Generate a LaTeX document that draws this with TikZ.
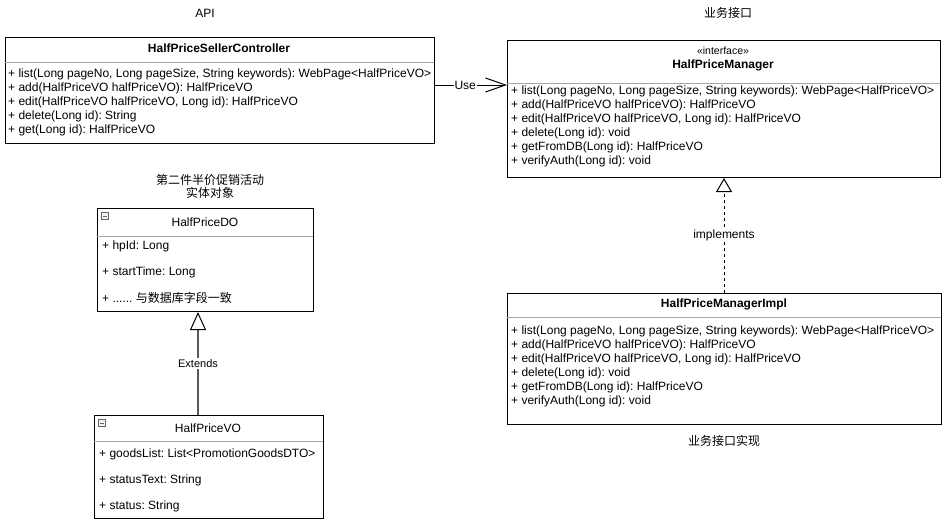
\documentclass[tikz,border=0pt]{standalone}
\usepackage{fontspec}
\setmainfont{Liberation Sans}
\newfontfamily\cjk{Noto Sans CJK SC}
\usetikzlibrary{arrows.meta}
\frenchspacing
\begin{document}
\begin{tikzpicture}[x=1pt,y=-1pt,
  font=\fontsize{12}{14}\selectfont,
  classbox/.style={draw=black,line width=1pt,anchor=north west,inner sep=0pt},
  divider/.style={draw=gray!70,line width=0.8pt},
  txt/.style={anchor=west,inner sep=0pt},
  ctxt/.style={anchor=center,inner sep=0pt},
  lbl/.style={fill=white,inner sep=1pt,anchor=center},
  minusicon/.style={draw=gray!80!black,fill=blue!6,line width=0.5pt,minimum size=7pt,inner sep=0pt,anchor=center}
]
\useasboundingbox (0,0) rectangle (944,525);
\fill[white] (0,0) rectangle (944,525);

% titles
\node[ctxt] (tapi) at (205,13) {API};
\node[ctxt] (tif) at (728,13) {\cjk 业务接口};
\node[ctxt] (timpl) at (724,441) {\cjk 业务接口实现};
\node[ctxt,align=center] (tdo) at (210,186) {\cjk 第二件半价促销活动\\[-1pt]\cjk 实体对象};

% Controller
\node[classbox,minimum width=429pt,minimum height=106pt] (ctrl) at (5,37) {};
\draw[divider] (5,62) -- (434,62);
\node[ctxt,font=\fontsize{12}{14}\selectfont\bfseries] (ctrlh) at (219,48) {HalfPriceSellerController};
\node[txt] (c1) at (8,74) {+ list(Long pageNo, Long pageSize, String keywords): WebPage<HalfPriceVO>};
\node[txt] (c2) at (8,88) {+ add(HalfPriceVO halfPriceVO): HalfPriceVO};
\node[txt] (c3) at (8,102) {+ edit(HalfPriceVO halfPriceVO, Long id): HalfPriceVO};
\node[txt] (c4) at (8,116) {+ delete(Long id): String};
\node[txt] (c5) at (8,130) {+ get(Long id): HalfPriceVO};

% Manager interface
\node[classbox,minimum width=433pt,minimum height=137pt] (mgr) at (507,40) {};
\draw[divider] (507,83) -- (940,83);
\node[ctxt,font=\fontsize{10.5}{12}\selectfont] (mgrs) at (723,51) {«interface»};
\node[ctxt,font=\fontsize{12}{14}\selectfont\bfseries] (mgrh) at (723,65) {HalfPriceManager};
\node[txt] (m1) at (511,91) {+ list(Long pageNo, Long pageSize, String keywords): WebPage<HalfPriceVO>};
\node[txt] (m2) at (511,105) {+ add(HalfPriceVO halfPriceVO): HalfPriceVO};
\node[txt] (m3) at (511,119) {+ edit(HalfPriceVO halfPriceVO, Long id): HalfPriceVO};
\node[txt] (m4) at (511,133) {+ delete(Long id): void};
\node[txt] (m5) at (511,147) {+ getFromDB(Long id): HalfPriceVO};
\node[txt] (m6) at (511,161) {+ verifyAuth(Long id): void};

% Impl
\node[classbox,minimum width=434pt,minimum height=131pt] (impl) at (507,293) {};
\draw[divider] (507,317) -- (941,317);
\node[ctxt,font=\fontsize{12}{14}\selectfont\bfseries] (implh) at (724,304) {HalfPriceManagerImpl};
\node[txt] (i1) at (511,331) {+ list(Long pageNo, Long pageSize, String keywords): WebPage<HalfPriceVO>};
\node[txt] (i2) at (511,345) {+ add(HalfPriceVO halfPriceVO): HalfPriceVO};
\node[txt] (i3) at (511,359) {+ edit(HalfPriceVO halfPriceVO, Long id): HalfPriceVO};
\node[txt] (i4) at (511,373) {+ delete(Long id): void};
\node[txt] (i5) at (511,387) {+ getFromDB(Long id): HalfPriceVO};
\node[txt] (i6) at (511,401) {+ verifyAuth(Long id): void};

% HalfPriceDO
\node[classbox,minimum width=216pt,minimum height=103pt] (do) at (97,208) {};
\draw[divider] (97,236) -- (313,236);
\node[minusicon] (doi) at (105,216) {};
\draw[gray!80!black,line width=0.8pt] ([xshift=-2pt]doi.center) -- ([xshift=2pt]doi.center);
\node[ctxt] (doh) at (205,222) {HalfPriceDO};
\node[txt] (d1) at (102,246) {+ hpId: Long};
\node[txt] (d2) at (102,272) {+ startTime: Long};
\node[txt] (d3) at (102,298) {+ ...... {\cjk 与数据库字段一致}};

% HalfPriceVO
\node[classbox,minimum width=229pt,minimum height=103pt] (vo) at (94,415) {};
\draw[divider] (94,441) -- (323,441);
\node[minusicon] (voi) at (102,423) {};
\draw[gray!80!black,line width=0.8pt] ([xshift=-2pt]voi.center) -- ([xshift=2pt]voi.center);
\node[ctxt] (voh) at (208,428) {HalfPriceVO};
\node[txt] (v1) at (99,454) {+ goodsList: List<PromotionGoodsDTO>};
\node[txt] (v2) at (99,480) {+ statusText: String};
\node[txt] (v3) at (99,506) {+ status: String};

% connectors
\coordinate (useS) at (ctrl.east |- 0,85);
\coordinate (useE) at (mgr.west |- 0,85);
\draw[line width=1pt,-{Straight Barb[length=20pt,width=14pt,line width=1pt]}] (useS) -- node[lbl,pos=0.42] {Use} (useE);

\coordinate (extS) at (198,415);
\coordinate (extE) at (198,311);
\draw[gray!70!black,line width=1.2pt,-{Triangle[open,length=18pt,width=16pt,line width=1pt,color=black,fill=white]}] (vo.north -| extS) -- node[lbl,pos=0.5,text=black] {\fontsize{11}{13}\selectfont Extends} (do.south -| extE);

\coordinate (impS) at (724,293);
\coordinate (impE) at (724,178);
\draw[black,line width=1pt,dash pattern=on 3pt off 3pt,-{Triangle[open,length=14pt,width=16pt,line width=1pt,fill=white]}] (impl.north -| impS) -- node[lbl,pos=0.5] {implements} (mgr.south -| impE);
\end{tikzpicture}
\end{document}
